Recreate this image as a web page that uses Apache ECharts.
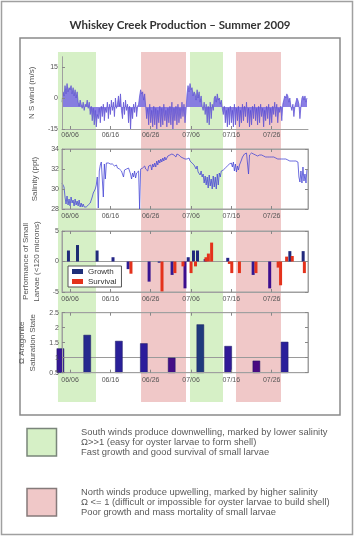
<!DOCTYPE html>
<html><head><meta charset="utf-8">
<script src="https://cdn.jsdelivr.net/npm/echarts@6/dist/echarts.min.js"></script>
<style>html,body{margin:0;padding:0;background:#fff}#c{width:360px;height:537px}</style>
</head><body><div id="c"></div>
<script>
// ---------- data ----------
const chartTitle = 'Whiskey Creek Production \u2013 Summer 2009';
const tickDays = [6, 16, 26, 36, 46, 56];            // day of June (July 1 = 31)
const tickLabels = ['06/06', '06/16', '06/26', '07/06', '07/16', '07/26'];
const dayStart = 4;    // June 4
const dayEnd = 65;     // Aug 4
const samplesPerDay = 4;

const windValues = [
 -2,3,1,6, 2,7,3,5, 4,6,2,5, 1,4,0,3, -2,-4,-1,-3, -5,-2,-6,-3, -4,-1,-5,-2, -8,-4,-11,-5,
 -13,-6,-14,-8, -10,-5,-12,-4, -9,-3,-11,-5, -7,-2,-10,-3, -8,-1,-6,-2, -9,0,-5,-3, 1,-4,2,-6, -10,-2,-8,-1,
 -6,-3,-12,-4, -15,-5,-10,-3, -7,-2,-9,-4, -3,1,4,2, 3,-1,2,-4, -10,-5,-13,-3, -12,-6,-14,-4, -13,-5,-15,-6,
 -12,-4,-14,-5, -13,-3,-11,-6, -14,-5,-12,-4, -13,-2,-15,-5, -11,-4,-13,-3, -12,-5,-10,-2, -9,-3,-12,-6,
 2,6,3,7, 4,5,1,3, 2,-1,4,0, 3,-2,1,-4, -6,-2,-8,-3, -12,-4,-13,-2, -10,-3,-6,0, 1,-2,2,-1, 0,-3,-1,-5,
 -8,-4,-12,-6, -14,-5,-13,-4, -12,-6,-14,-3, -13,-5,-11,-4, -14,-6,-12,-3, -11,-4,-9,-2, -12,-5,-14,-6,
 -13,-4,-10,-3, -11,-5,-13,-4, -12,-3,-9,-5, -14,-6,-11,-4, -10,-3,-13,-5, -12,-4,-8,-2, -9,-3,-12,-5,
 -7,-4,-11,-3, -1,1,0,2, 1,-2,0,-4, -6,-3,-9,-4, -2,0,-1,-3, -10,-4,0,1, -1,1,-2,0
];
const windBaseline = -4.4;

const salinityValues = [
 30.6,30.8,30.2,29.2, 28.5,29.3,28.4,29.0, 28.3,29.2,28.6,28.9, 28.3,29.0,28.4,28.8, 28.3,28.9,28.2,28.6,
 28.2,28.5,28.2,28.3, 28.2,28.3,28.4,28.5, 28.6,28.9,29.2,29.6, 29.8,30.0,30.4,31.2, 28.1,31.8,32.4,32.7,
 32.6,29.2,32.5,31.0, 32.6,32.5,32.6,32.4, 32.5,32.3,32.5,32.4, 32.3,32.2,32.4,32.1, 32.2,32.0,32.2,31.8,
 32.0,31.2,31.9,32.1, 32.0,31.8,32.1,31.9, 31.5,31.0,31.6,31.2, 31.8,31.1,31.6,31.4, 31.8,28.0,32.0,31.8,
 32.1,31.9,32.3,32.0, 32.2,31.8,32.3,32.1, 32.4,31.9,32.5,32.2, 32.6,32.2,32.8,32.4, 32.9,32.6,33.0,32.7,
 33.1,32.8,33.2,32.9, 33.0,33.3,33.1,33.4, 33.2,33.5,33.3,33.4, 33.4,33.2,33.5,33.3, 33.4,33.3,33.2,33.3,
 33.1,33.2,33.0,33.1, 33.0,32.9,33.1,32.8, 32.9,32.6,32.8,32.4, 32.5,32.0,32.3,31.7, 31.9,31.4,31.8,31.2,
 31.5,30.6,31.3,30.4, 31.2,30.1,31.4,30.3, 31.0,30.0,31.3,30.2, 31.2,30.0,31.5,30.4, 31.6,31.2,31.8,31.6,
 31.9,31.7,32.1,32.0, 32.3,32.1,32.5,32.4, 32.6,32.2,32.7,31.8, 32.5,31.7,32.3,31.9, 32.4,32.2,32.9,33.2,
 33.3,33.5,33.4,33.6, 33.5,31.5,33.4,33.5, 33.6,33.4,33.5,33.5, 33.4,33.5,33.3,33.4, 33.4,33.3,33.4,33.3,
 33.3,33.3,33.2,33.3, 33.2,33.3,33.2,33.2, 33.2,33.1,33.2,33.1, 33.1,33.1,33.0,33.1, 33.0,33.1,33.0,33.0,
 33.0,32.9,33.0,32.9, 32.9,32.9,32.8,32.9, 32.8,32.9,32.8,32.7, 32.8,32.6,32.7,31.2, 30.7,31.8,30.6,32.2,
 30.8,31.5,30.6,32.0
];

const growthDays   = [5.6, 7.85, 12.7, 16.65, 20.4, 25.6, 28.1, 31.3, 34.5, 35.3, 36.6, 37.6, 39.5, 45.1, 51.4, 55.5, 60.5, 63.8];
const growthValues = [1.8, 2.7, 1.8, 0.7, -1.25, -3.3, -0.2, -2.2, -4.4, 0.7, 1.8, 1.8, 0.4, 0.6, -2.2, -4.4, 1.7, 1.7];
const survivalDays   = [21.1, 28.8, 32.0, 34.0, 36.0, 37.1, 39.7, 40.3, 41.1, 45.5, 46.1, 48.0, 52.1, 57.6, 58.2, 59.7, 61.1, 64.1];
const survivalValues = [-2.0, -4.9, -1.9, -0.8, -1.9, -0.8, 0.7, 1.3, 3.1, -0.4, -1.9, -1.9, -1.9, -1.0, -3.9, 0.8, 0.9, -1.9];

const omegaDays   = [3.6, 10.25, 18.1, 24.3, 31.2, 38.3, 45.2, 52.2, 59.2];
const omegaValues = [1.31, 1.76, 1.56, 1.48, 1.0, 2.11, 1.39, 0.9, 1.53];

const southBands = [[3.0, 12.43], [35.74, 43.92]];
const northBands = [[23.6, 34.75], [47.14, 58.3]];

const southText = ['South winds produce downwelling, marked by lower salinity',
                   '\u03A9>>1 (easy for oyster larvae to form shell)',
                   'Fast growth and good survival of small larvae'];
const northText = ['North winds produce upwelling, marked by higher salinity',
                   '\u03A9 <= 1 (difficult or impossible for oyster larvae to build shell)',
                   'Poor growth and mass mortality of small larvae'];

// ---------- layout ----------
const FONT = '"Liberation Sans", Arial, sans-serif';
const PL = 62, PR = 308;
const pxPerDay = (PR - PL) / (dayEnd - dayStart);
const bgMin = 2, bgMax = 67;
const bgLeft = PL - (dayStart - bgMin) * pxPerDay;
const bgRight = 360 - (PR + (bgMax - dayEnd) * pxPerDay);

const grids = [
  {left: PL, right: 360 - PR, top: 56.7, height: 72.3, show: false},
  {left: PL, right: 360 - PR, top: 149, height: 60, show: true, borderColor: '#a0a0a0', borderWidth: 1, backgroundColor: 'transparent'},
  {left: PL, right: 360 - PR, top: 231, height: 61, show: true, borderColor: '#a0a0a0', borderWidth: 1, backgroundColor: 'transparent'},
  {left: PL, right: 360 - PR, top: 312.7, height: 60, show: true, borderColor: '#a0a0a0', borderWidth: 1, backgroundColor: 'transparent'},
  {left: bgLeft, right: bgRight, top: 52, height: 350, show: false}
];

function xAx(gi, pos, labels, margin) {
  return {
    type: 'value', gridIndex: gi, position: pos, min: dayStart, max: dayEnd, z: 5,
    axisLine: {show: true, onZero: false, lineStyle: {color: '#a0a0a0', width: 1}},
    axisTick: {show: true, inside: true, length: 3, customValues: tickDays, lineStyle: {color: '#888'}},
    axisLabel: {show: labels, customValues: tickDays, margin: margin, fontSize: 7, color: '#555', fontFamily: FONT,
      formatter: v => tickLabels[tickDays.indexOf(v)] || ''},
    splitLine: {show: false}
  };
}
function yAx(gi, pos, o) {
  const base = {
    type: 'value', gridIndex: gi, position: pos, z: 5,
    axisLine: {show: true, onZero: false, lineStyle: {color: '#a0a0a0', width: 1}},
    axisTick: {show: true, inside: true, length: 3, lineStyle: {color: '#888'}},
    axisLabel: {show: pos === 'left', fontSize: 7, color: '#555', fontFamily: FONT, margin: 3},
    splitLine: {show: false},
    nameLocation: 'middle', nameRotate: 90,
    nameTextStyle: {fontSize: 8, color: '#555', fontFamily: FONT, lineHeight: 11}
  };
  const r = Object.assign(base, o);
  if (pos !== 'left') { delete r.name; }
  return r;
}

const xAxes = [
  xAx(0, 'bottom', true, 3),
  xAx(1, 'bottom', true, 4), xAx(1, 'top', false, 0),
  xAx(2, 'bottom', true, 4), xAx(2, 'top', false, 0),
  xAx(3, 'bottom', true, 4), xAx(3, 'top', false, 0),
  {type: 'value', gridIndex: 4, min: bgMin, max: bgMax, show: false}
];
const windY = yAx(0, 'left', {min: -15, max: 20, name: 'N S wind (m/s)', nameGap: 21});
windY.axisTick.customValues = [-15, 0, 15];
windY.axisLabel.customValues = [-15, 0, 15];
windY.axisLabel.margin = 4;
const yAxes = [
  windY,
  yAx(1, 'left', {min: 28, max: 34, interval: 2, name: 'Salinity (ppt)', nameGap: 21}),
  yAx(1, 'right', {min: 28, max: 34, interval: 2}),
  yAx(2, 'left', {min: -5, max: 5, interval: 5, name: 'Performance of Small\nLarvae (<120 microns)', nameGap: 15}),
  yAx(2, 'right', {min: -5, max: 5, interval: 5}),
  yAx(3, 'left', {min: 0.5, max: 2.5, interval: 0.5, name: '\u03A9 Aragonite\nSaturation State', nameGap: 15}),
  yAx(3, 'right', {min: 0.5, max: 2.5, interval: 0.5}),
  {type: 'value', gridIndex: 4, min: 0, max: 1, show: false}
];

const windData = windValues.map((v, i) => [dayStart + i / samplesPerDay, v]);
const salData = salinityValues.map((v, i) => [dayStart + i / samplesPerDay, v]);
const growthData = growthDays.map((d, i) => [d, growthValues[i]]);
const survData = survivalDays.map((d, i) => [d, survivalValues[i]]);
const omegaData = omegaDays.map((d, i) => [d, omegaValues[i]]);

const bandAreas = southBands.map(b => [{xAxis: b[0], itemStyle: {color: '#d6f0c6'}}, {xAxis: b[1]}])
  .concat(northBands.map(b => [{xAxis: b[0], itemStyle: {color: '#f0c8c8'}}, {xAxis: b[1]}]));

const series = [
  {type: 'line', xAxisIndex: 7, yAxisIndex: 7, data: [[bgMin, -1]], symbol: 'none', silent: true, z: -5,
   lineStyle: {opacity: 0}, markArea: {silent: true, z: -5, data: bandAreas, itemStyle: {opacity: 1}}},
  {type: 'line', name: 'wind', xAxisIndex: 0, yAxisIndex: 0, data: windData, symbol: 'none',
   lineStyle: {color: '#5a4ed2', width: 0.7}, areaStyle: {origin: windBaseline, color: '#7d70e2', opacity: 0.9}},
  {type: 'line', name: 'salinity', xAxisIndex: 1, yAxisIndex: 1, data: salData, symbol: 'none',
   lineStyle: {color: '#4848d6', width: 0.8}},
  {type: 'bar', name: 'Growth', xAxisIndex: 3, yAxisIndex: 3, data: growthData, barWidth: 3, barGap: '-100%',
   itemStyle: {color: '#1f2f78'},
   markLine: {silent: true, symbol: 'none', label: {show: false}, z: 1, lineStyle: {color: '#9a9a9a', width: 1, type: 'solid'}, data: [{yAxis: 0}]}},
  {type: 'bar', name: 'Survival', xAxisIndex: 3, yAxisIndex: 3, data: survData, barWidth: 3, barGap: '-100%',
   itemStyle: {color: '#e4321c'}},
  {type: 'bar', name: 'omega', xAxisIndex: 5, yAxisIndex: 5, data: omegaData, barWidth: 7.5,
   itemStyle: {color: '#23307e', borderColor: '#1a1a60', borderWidth: 0.5},
   markLine: {silent: true, symbol: 'none', label: {show: false}, z: 1, lineStyle: {color: '#9a9a9a', width: 1, type: 'solid'}, data: [{yAxis: 1}]}}
];

const graphics = [
  {type: 'rect', shape: {x: 1.5, y: 1.5, width: 351, height: 533}, style: {fill: 'none', stroke: '#a0a0a0', lineWidth: 1.5}, silent: true},
  {type: 'rect', shape: {x: 20, y: 38, width: 320, height: 377}, style: {fill: 'none', stroke: '#8a8a8a', lineWidth: 1.5}, silent: true},
  {type: 'rect', shape: {x: 27, y: 428.5, width: 29.5, height: 27.5}, style: {fill: '#d6f0c6', stroke: '#7a857a', lineWidth: 1.5}, silent: true},
  {type: 'rect', shape: {x: 27, y: 488.5, width: 29.5, height: 27.5}, style: {fill: '#f0c8c8', stroke: '#857a7a', lineWidth: 1.5}, silent: true},
  {type: 'text', x: 81, y: 427.5, silent: true, style: {text: southText.join('\n'), font: '9.4px ' + FONT, fill: '#5a5a5a', lineHeight: 10}},
  {type: 'text', x: 81, y: 487.5, silent: true, style: {text: northText.join('\n'), font: '9.4px ' + FONT, fill: '#5a5a5a', lineHeight: 10}}
];

const chart = echarts.init(document.getElementById('c'), null, {renderer: 'canvas'});
chart.setOption({
  animation: false,
  backgroundColor: '#fff',
  title: {text: chartTitle, left: 'center', top: 14,
    textStyle: {fontSize: 11.5, fontWeight: 'bold', color: '#333', fontFamily: 'Lato, "Open Sans", sans-serif'}},
  grid: grids,
  xAxis: xAxes,
  yAxis: yAxes,
  visualMap: [
    {type: 'continuous', show: false, seriesIndex: 3, dimension: 1, min: -4.5, max: 2.7,
     inRange: {color: ['#3e0e8e', '#2a1f96', '#1d2d72']}},
    {type: 'continuous', show: false, seriesIndex: 5, dimension: 1, min: 0.9, max: 2.1,
     inRange: {color: ['#4a0a82', '#2b1d9c', '#1f3a7c']}}
  ],
  legend: {
    data: [{name: 'Growth', itemStyle: {color: '#1f2f78'}}, {name: 'Survival', itemStyle: {color: '#e4321c'}}],
    orient: 'vertical', left: 68, top: 266, icon: 'rect', itemWidth: 11, itemHeight: 5, itemGap: 1,
    padding: [1, 5, 1, 4], borderColor: '#555', borderWidth: 1, backgroundColor: '#fff',
    textStyle: {fontSize: 8, color: '#333', fontFamily: FONT, lineHeight: 9}
  },
  graphic: graphics,
  series: series
});
</script></body></html>
